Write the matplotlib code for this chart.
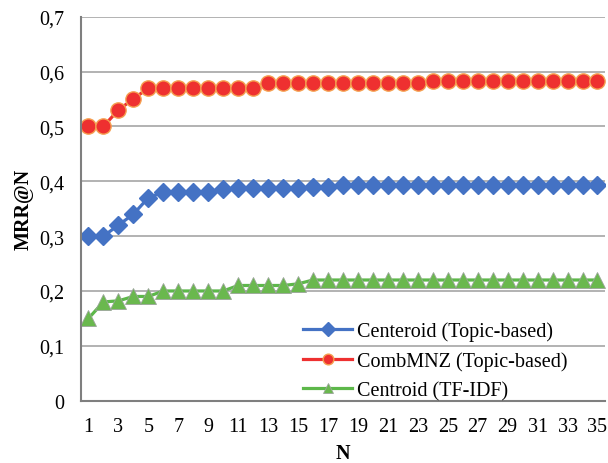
import matplotlib
matplotlib.use("Agg")
import matplotlib.pyplot as plt
from matplotlib.ticker import FuncFormatter

plt.rcParams['font.family'] = ['Liberation Serif', 'DejaVu Serif']

# Daten
n_vals = list(range(1, 36))
centeroid_topic = [0.30, 0.30, 0.32, 0.34, 0.37, 0.38, 0.38, 0.38, 0.38, 0.386,
                   0.387, 0.387, 0.387, 0.387, 0.387, 0.39, 0.39, 0.393, 0.393, 0.393,
                   0.393, 0.393, 0.393, 0.393, 0.393, 0.393, 0.393, 0.393, 0.393, 0.393,
                   0.393, 0.393, 0.393, 0.393, 0.393]
combmnz_topic = [0.50, 0.50, 0.53, 0.55, 0.57, 0.57, 0.57, 0.57, 0.57, 0.57,
                 0.57, 0.57, 0.58, 0.58, 0.58, 0.58, 0.58, 0.58, 0.58, 0.58,
                 0.58, 0.58, 0.58, 0.582, 0.582, 0.582, 0.582, 0.582, 0.582, 0.582,
                 0.583, 0.583, 0.583, 0.583, 0.583]
centroid_tfidf = [0.15, 0.18, 0.182, 0.19, 0.19, 0.20, 0.20, 0.20, 0.20, 0.20,
                  0.21, 0.21, 0.21, 0.21, 0.213, 0.22, 0.22, 0.22, 0.22, 0.22,
                  0.22, 0.22, 0.22, 0.22, 0.22, 0.22, 0.22, 0.22, 0.22, 0.22,
                  0.22, 0.22, 0.22, 0.22, 0.22]
y_ticks = [0, 0.1, 0.2, 0.3, 0.4, 0.5, 0.6, 0.7]
x_ticks = list(range(1, 36, 2))

fig = plt.figure(figsize=(6.08, 4.64), dpi=100)
ax = fig.add_axes([0.1332, 0.1343, 0.8618, 0.8276])

ax.plot(n_vals, centeroid_topic, color='#4472C4', lw=2.3, marker='D', ms=9.5,
        label='Centeroid (Topic-based)')
ax.plot(n_vals, combmnz_topic, color='#EE3030', lw=2.3, marker='o', ms=11,
        mfc='#EE3030', mec='#F5A050', mew=1.0, label='CombMNZ (Topic-based)')
ax.plot(n_vals, centroid_tfidf, color='#5DB84A', lw=2.3, marker='^', ms=11,
        mfc='#6AB84E', mec='#9AA59A', mew=0.6, label='Centroid (TF-IDF)')

ax.set_xlim(0.5, 35.5)
ax.set_ylim(0, 0.7)
ax.set_xticks(x_ticks)
ax.set_yticks(y_ticks)
ax.yaxis.set_major_formatter(FuncFormatter(
    lambda v, p: '0' if v == 0 else ('%.1f' % v).replace('.', ',')))
ax.tick_params(length=0, labelsize=14.5, pad=12)
ax.tick_params(axis='y', pad=12)

ax.grid(axis='y', color='#A6A6A6', lw=1.2)
ax.set_axisbelow(True)
for s in ['top', 'right']:
    ax.spines[s].set_visible(False)
for s in ['left', 'bottom']:
    ax.spines[s].set_color('#7F7F7F')
    ax.spines[s].set_linewidth(1.5)

ax.set_xlabel('N', fontsize=14.5, fontweight='bold', labelpad=5)
ax.set_ylabel('MRR@N', fontsize=14.5, fontweight='bold', labelpad=4)

ax.legend(loc='lower right', frameon=False, fontsize=14.5, handlelength=2.4,
          labelspacing=0.5, handletextpad=0.25, borderpad=0.2, markerscale=0.7,
          bbox_to_anchor=(0.955, -0.035))

fig.savefig('out.png', dpi=100)
